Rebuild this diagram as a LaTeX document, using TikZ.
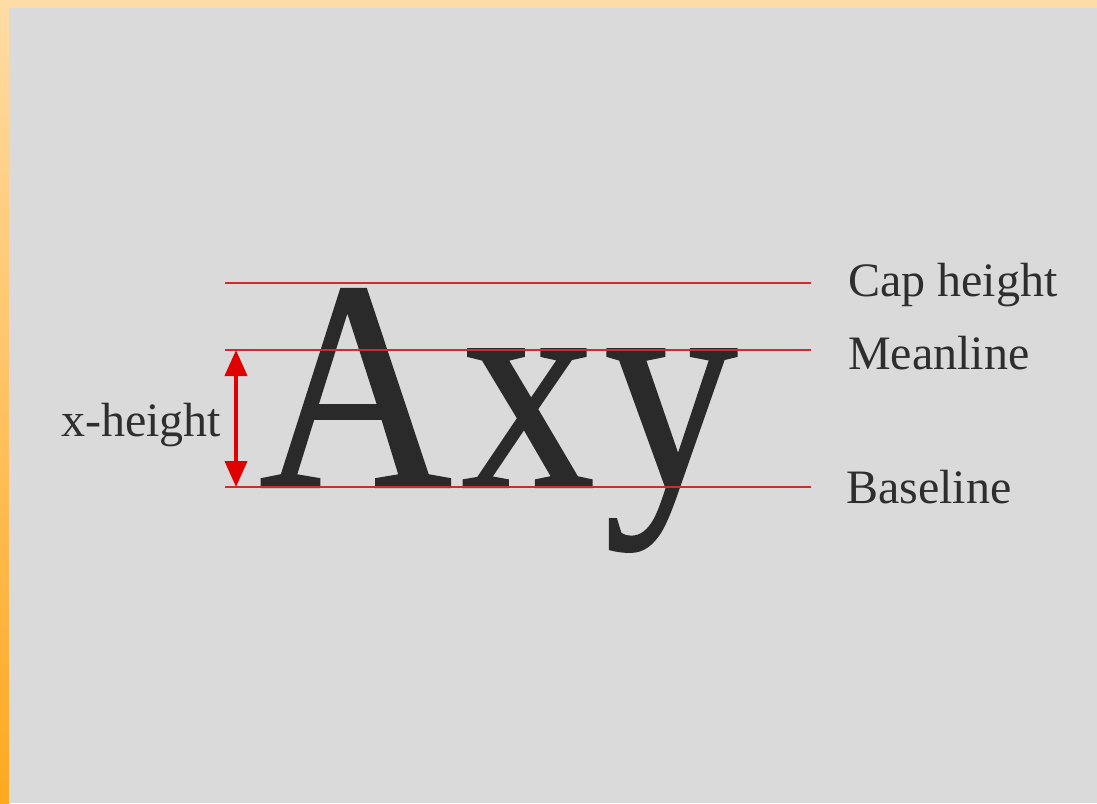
\documentclass[tikz,border=0pt]{standalone}
\usepackage{fontspec}
\usepackage{graphicx}
\setmainfont{Liberation Serif}
\newfontfamily\glyphfont[FakeBold=0.8]{Liberation Serif}
\usetikzlibrary{arrows.meta}
\definecolor{bggray}{HTML}{DADADA}
\definecolor{frametop}{HTML}{FFDCA5}
\definecolor{framebot}{HTML}{FFA820}
\definecolor{guide}{HTML}{D42A2A}
\definecolor{arrowred}{HTML}{E00000}
\definecolor{ink}{HTML}{2A2A2A}
\definecolor{labelink}{HTML}{2E2E2E}
\tikzset{
  guideline/.style={guide, line width=1.8pt},
  label/.style={anchor=base west, inner sep=0pt, text=labelink, font=\fontsize{48}{50}\selectfont},
  measure/.style={arrowred, line width=4pt, {Triangle[width=22pt,length=26pt]}-{Triangle[width=22pt,length=26pt]}}
}
\begin{document}
\begin{tikzpicture}[x=1pt,y=-1pt]
\useasboundingbox (0,0) rectangle (1097,803);
% frame
\fill[frametop] (0,0) rectangle (1097,8);
\shade[top color=frametop, bottom color=framebot] (0,0) rectangle (9,803);
\fill[bggray] (9,8) rectangle (1097,803);
% guide lines
\coordinate (capL) at (225,283);
\coordinate (capR) at (811,283);
\coordinate (meanL) at (225,350);
\coordinate (meanR) at (811,350);
\coordinate (baseL) at (225,487);
\coordinate (baseR) at (811,487);
% glyphs
\node[anchor=base west, inner sep=0pt, text=ink, font=\glyphfont\fontsize{300}{302}\selectfont] (axy) at (259,487) {\scalebox{0.89}[1]{A\kern10.5pt x\kern10.5pt y}};
\draw[guideline] (capL) -- (capR);
\draw[guideline] (meanL) -- (meanR);
\draw[guideline] (baseL) -- (baseR);
% measure arrow
\coordinate (arrT) at (236,350);
\coordinate (arrB) at (236,487);
\draw[measure] (arrT) -- (arrB);
% labels
\node[label] (lcap) at (848,296) {Cap height};
\node[label] (lmean) at (848,369) {Meanline};
\node[label] (lbase) at (846,503) {Baseline};
\node[label] (lx) at (61,436) {x-height};
\end{tikzpicture}
\end{document}
